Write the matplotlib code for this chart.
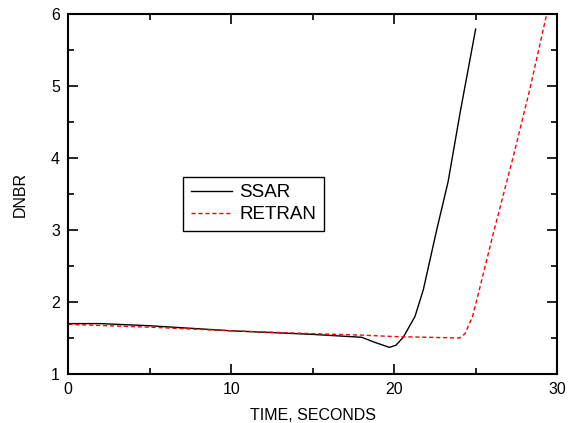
import matplotlib
matplotlib.use("Agg")
import matplotlib.pyplot as plt
from matplotlib.ticker import MultipleLocator

plt.rcParams['font.family'] = ['Liberation Sans', 'DejaVu Sans']

ssar_t = [0, 2, 5, 10, 15, 18.0, 18.8, 19.7, 20.1, 20.55, 21.27, 21.78, 22.6, 23.3, 24.03, 24.99]
ssar_v = [1.70, 1.70, 1.67, 1.60, 1.55, 1.51, 1.44, 1.37, 1.40, 1.51, 1.80, 2.17, 3.00, 3.67, 4.62, 5.79]

retran_t = [0, 5, 10, 15, 18, 20, 22, 24.0, 24.34, 24.8, 25.26, 26.07, 27.3, 28.3, 29.35]
retran_v = [1.69, 1.65, 1.60, 1.56, 1.54, 1.52, 1.51, 1.50, 1.56, 1.80, 2.21, 2.95, 4.02, 4.94, 6.0]

xlim = (0, 30)
ylim = (1, 6)
xticks = [0, 10, 20, 30]
yticks = [1, 2, 3, 4, 5, 6]

fig = plt.figure(figsize=(5.74, 4.23), dpi=100)
ax = fig.add_axes([68.3/574, 1 - 374/423, 489/574, 360/423])

ax.plot(ssar_t, ssar_v, color='black', lw=1.0, label='SSAR')
ax.plot(retran_t, retran_v, color='red', lw=1.0, ls=(0, (3, 2)), label='RETRAN')

ax.set_xlim(*xlim)
ax.set_ylim(*ylim)
ax.set_xticks(xticks)
ax.set_yticks(yticks)
ax.xaxis.set_minor_locator(MultipleLocator(5))
ax.yaxis.set_minor_locator(MultipleLocator(0.5))
ax.tick_params(which='both', direction='in', top=True, right=True, labelsize=11.5, width=1.2)
ax.tick_params(which='major', length=7, pad=6)
ax.tick_params(which='minor', length=4)
for s in ax.spines.values():
    s.set_linewidth(1.5)

ax.set_xlabel('TIME, SECONDS', fontsize=11.5, labelpad=8)
ax.set_ylabel('DNBR', fontsize=11.5, labelpad=17)

leg = ax.legend(loc='upper left', bbox_to_anchor=(0.235, 0.548), fontsize=13.5,
                frameon=True, fancybox=False, edgecolor='black', framealpha=1,
                handlelength=2.2, borderpad=0.4, labelspacing=0.25, handletextpad=0.4,
                borderaxespad=0)
leg.get_frame().set_linewidth(1.0)

fig.savefig('out.png', dpi=100)
